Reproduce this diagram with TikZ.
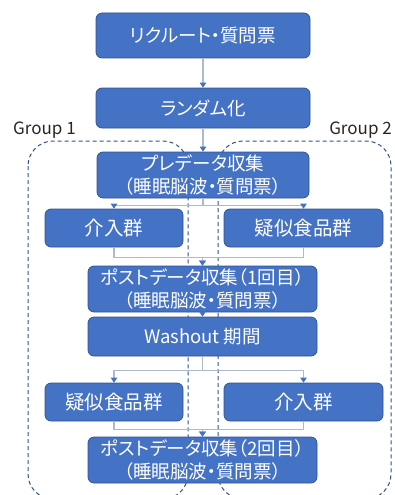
\documentclass[tikz,border=0pt]{standalone}
\usepackage{fontspec}
\setmainfont{Noto Sans CJK JP}
\newfontfamily\jp[RawFeature=+palt]{Noto Sans CJK JP}
\newfontfamily\jplat{Noto Sans CJK JP}
\usetikzlibrary{arrows.meta}
\definecolor{boxblue}{HTML}{4472C4}
\definecolor{boxedge}{HTML}{2F528F}
\definecolor{connc}{HTML}{AFB9CC}
\definecolor{grpc}{HTML}{2F528F}
\definecolor{lblc}{HTML}{262626}
\tikzset{
  box/.style={draw=boxedge, fill=boxblue, rounded corners=6pt, line width=0.7pt,
    text=white, inner sep=0pt, align=center, font=\jp\fontsize{18.5}{23}\selectfont},
  smallbox/.style={box, font=\jp\fontsize{19.5}{23}\selectfont},
  conn/.style={draw=connc, line width=1.1pt, -{Triangle[width=6.5pt,length=5pt,color=boxblue]}},
  grp/.style={draw=grpc, line width=1pt, dash pattern=on 4pt off 3pt, rounded corners=25pt},
  grplabel/.style={text=lblc, inner sep=0pt, font=\jplat\fontsize{17}{20}\selectfont}
}
\begin{document}
\begin{tikzpicture}[x=1pt,y=-1pt]
\useasboundingbox (0,0) rectangle (394,495);
% groups (behind)
\draw[grp] (28,141) rectangle (188,499);
\draw[grp] (218,141) rectangle (391,499);
\node[grplabel, anchor=west] (g1) at (13,130) {Group 1};
\node[grplabel, anchor=east] (g2) at (392,130) {Group 2};
% boxes
\node[box, minimum width=214pt, minimum height=45pt] (b1) at (203,35.5) {リクルート・質問票};
\node[box, minimum width=214pt, minimum height=40pt] (b2) at (203,108) {ランダム化};
\node[box, minimum width=212pt, minimum height=46pt] (b3) at (203,175) {プレデータ収集\\（睡眠脳波・質問票）};
\node[smallbox, minimum width=138pt, minimum height=38pt] (i1) at (114,228) {介入群};
\node[smallbox, minimum width=159pt, minimum height=38pt] (s1) at (303.5,228) {疑似食品群};
\node[box, minimum width=229pt, minimum height=46pt] (b4) at (202.5,289) {ポストデータ収集（1回目）\\（睡眠脳波・質問票）};
\node[box, minimum width=229pt, minimum height=39pt] (b5) at (202.5,336.5) {Washout 期間};
\node[smallbox, minimum width=138pt, minimum height=38pt] (s2) at (114,402) {疑似食品群};
\node[smallbox, minimum width=159pt, minimum height=38pt] (i2) at (303.5,402) {介入群};
\node[box, minimum width=229pt, minimum height=46pt] (b6) at (202.5,460) {ポストデータ収集（2回目）\\（睡眠脳波・質問票）};
% connectors
\draw[conn] (b1) -- (b2);
\draw[conn] (b2) -- (b3);
\draw[conn] (b3.south) -- ++(0,7) -| (i1.north);
\draw[conn] (b3.south) -- ++(0,7) -| (s1.north);
\draw[conn] (i1.south) -- ++(0,10) -| (b4.north);
\draw[conn] (s1.south) -- ++(0,10) -| (b4.north);
\draw[conn] (b4) -- (b5);
\draw[conn] (b5.south) -- ++(0,14) -| (s2.north);
\draw[conn] (b5.south) -- ++(0,14) -| (i2.north);
\draw[conn] (s2.south) -- ++(0,8) -| (b6.north);
\draw[conn] (i2.south) -- ++(0,8) -| (b6.north);
\end{tikzpicture}
\end{document}
